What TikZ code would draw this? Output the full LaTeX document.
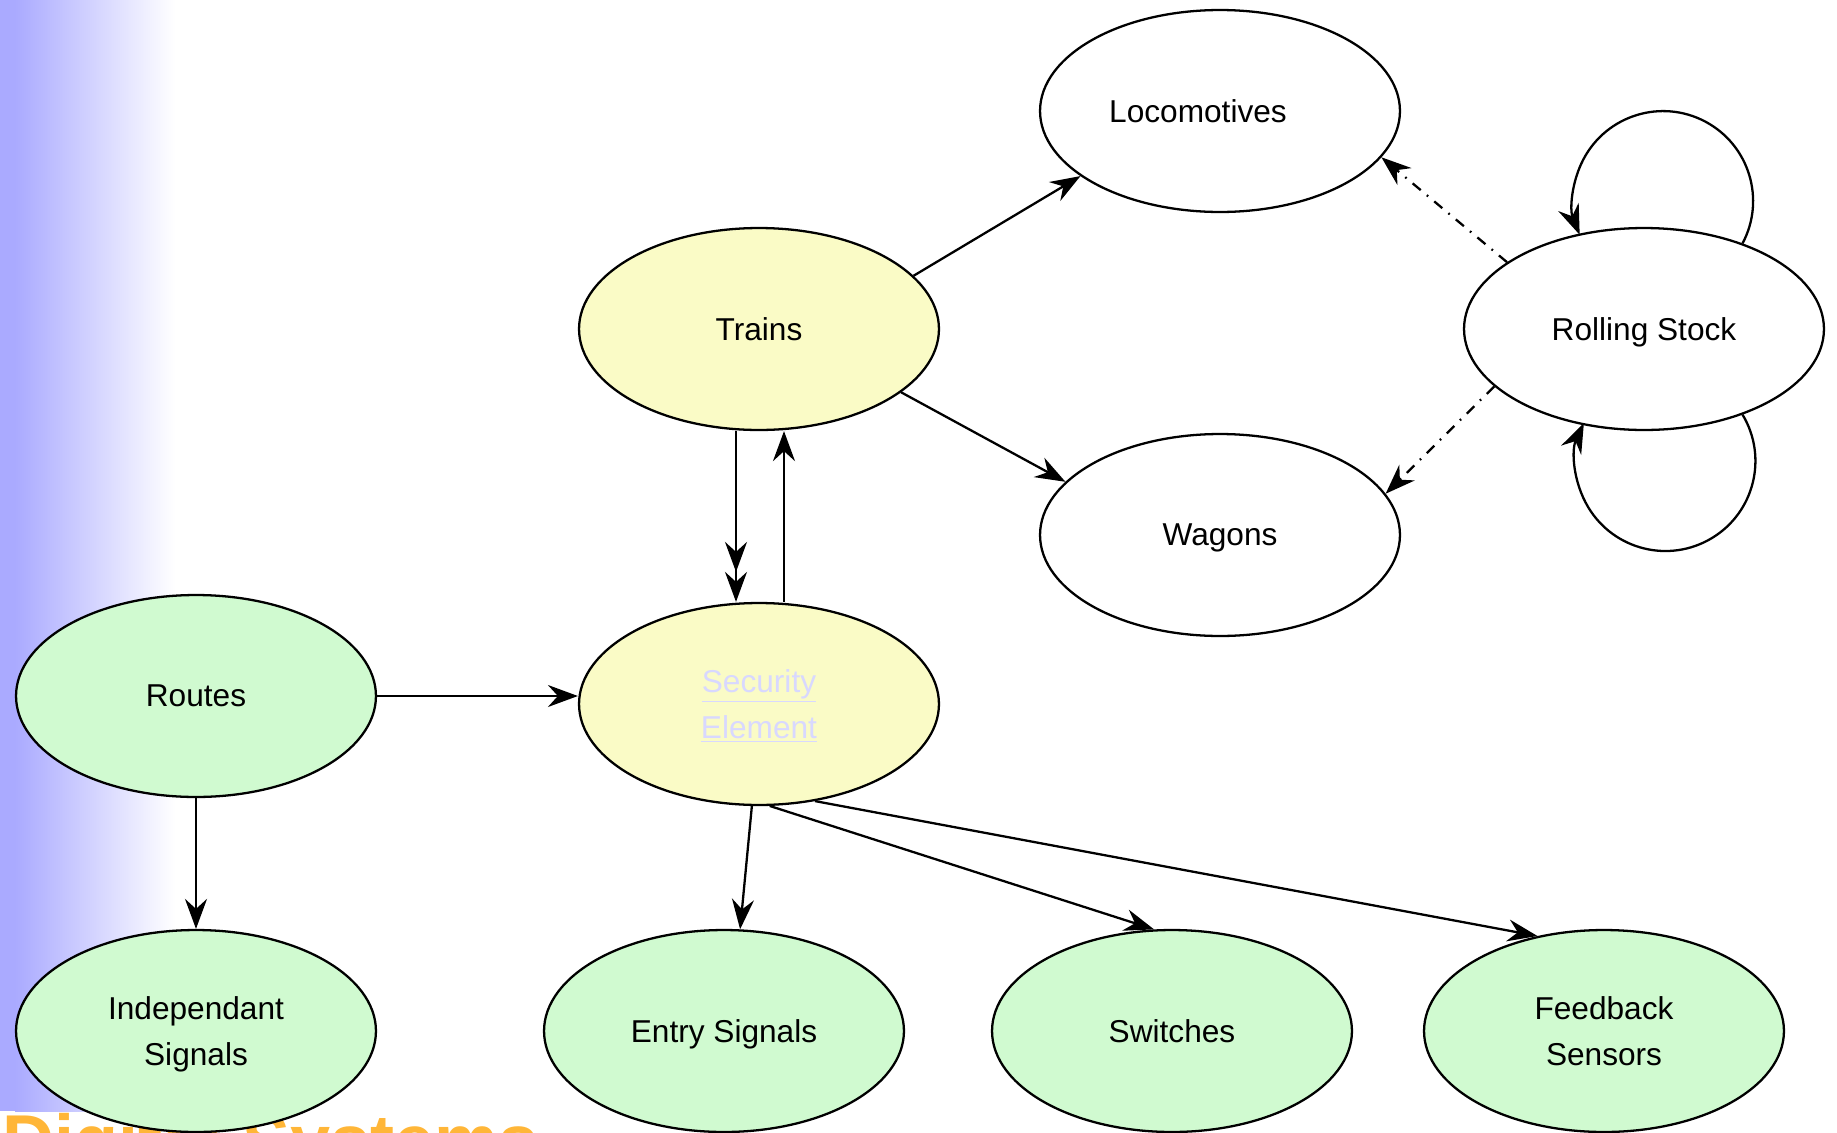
\documentclass[tikz,border=0pt]{standalone}
\usepackage{fontspec}
\setmainfont{Liberation Sans}
\usetikzlibrary{arrows.meta,shapes.geometric}
\definecolor{trainyellow}{RGB}{250,251,198}
\definecolor{signalgreen}{RGB}{208,250,208}
\definecolor{linkblue}{RGB}{216,216,255}
\definecolor{stripblue}{RGB}{170,170,255}
\definecolor{titleorange}{RGB}{255,182,56}
\tikzset{
	bigtip/.tip={Stealth[length=0.6cm,width=0.44cm,inset=0.2cm]},
	ovalnode/.style={ellipse,draw,line width=1.3pt,minimum width=7.2cm,minimum height=4.04cm,inner sep=0pt,align=center,font=\fontsize{18}{26.5}\selectfont},
	flatnode/.style={ovalnode,text depth=0pt},
	link/.style={-bigtip,line width=1.3pt},
	dashdot/.style={-bigtip,line width=1.3pt,dash pattern=on 6pt off 4.5pt on 1pt off 4.5pt}
}

\begin{document}
\begin{tikzpicture}[x=0.02cm,y=-0.02cm]
		\useasboundingbox (0,0) rectangle (1837,1133);
		\clip (0,0) rectangle (1837,1133);
		\fill[stripblue] (0,0) rectangle (15,1111);
		\shade[left color=stripblue,right color=white] (15,0) rectangle (175,1111);
		\node[anchor=base west,inner sep=0pt,text=titleorange,font=\bfseries\fontsize{41}{41}\selectfont] (title) at (2,1165) {Digital Systems};
		
		\node[flatnode,fill=white] (loco) at (1220,111) {Locomotives\hspace{0.88cm}};
		\node[flatnode,fill=trainyellow] (trains) at (759,329) {Trains};
		\node[flatnode,fill=white] (stock) at (1644,329) {Rolling Stock};
		\node[flatnode,fill=white] (wagons) at (1220,535) {Wagons};
		\node[flatnode,fill=signalgreen] (routes) at (196,696) {Routes};
		\node[ovalnode,fill=trainyellow,text=linkblue] (security) at (759,704) {\underline{Security}\\\smash{\underline{Element}}};
		\node[ovalnode,fill=signalgreen] (indep) at (196,1031) {Independant\\\smash{Signals}};
		\node[flatnode,fill=signalgreen] (entry) at (724,1031) {Entry Signals};
		\node[flatnode,fill=signalgreen] (switches) at (1172,1031) {Switches};
		\node[ovalnode,fill=signalgreen] (feedback) at (1604,1031) {Feedback\\Sensors};
		
		\draw[link] (trains.19) -- (loco.205);
		\draw[link] (trains.-24) -- (wagons.161);
		\draw[link,-{bigtip[]bigtip[]}] ([xshift=-0.46cm]trains.south) -- ([xshift=-0.46cm]security.north);
		\draw[link] ([xshift=0.5cm]security.north) -- ([xshift=0.5cm]trains.south);
		\draw[link] (routes.east) -- (routes.east -| security.west);
		\draw[link] (routes.south) -- (indep.north);
		\draw[link] (security.266) -- (entry.81);
		\draw[link] (security.276) -- (switches.100);
		\draw[link] (security.300) -- (feedback.125);
		
		\draw[dashdot] (stock.154) -- (loco.344);
		\draw[dashdot] (stock.201) -- (wagons.14);
		\draw[link] (stock.41) arc[start angle=-28,end angle=202,radius=1.8cm];
		\draw[link] (stock.-41) arc[start angle=31,end angle=-205,radius=1.8cm];
	\end{tikzpicture}
\end{document}
